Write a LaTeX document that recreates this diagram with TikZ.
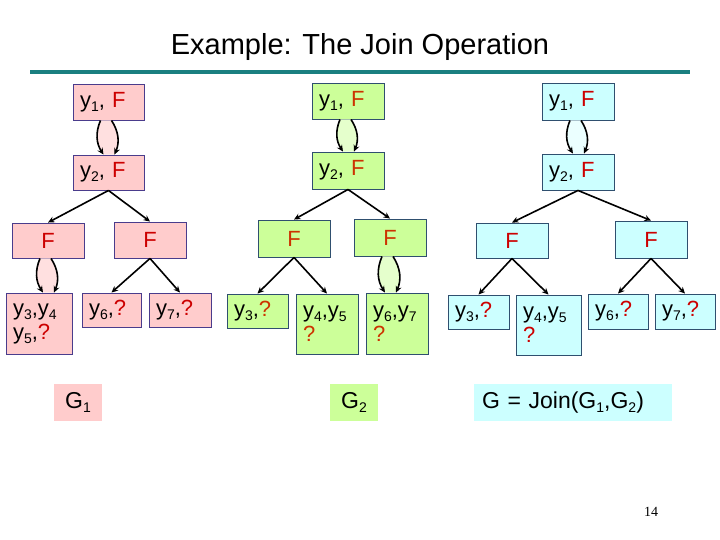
\documentclass[tikz,border=0pt]{standalone}
\usepackage{fontspec}
\setmainfont{Liberation Sans}
\newfontfamily\pgserif{Liberation Serif}
\usetikzlibrary{arrows.meta,calc}
\definecolor{pinkF}{HTML}{FFCCCC}
\definecolor{greenF}{HTML}{CCFF99}
\definecolor{blueF}{HTML}{CCFFFF}
\definecolor{bordP}{HTML}{4A3C8C}
\definecolor{bordG}{HTML}{2F4F6F}
\definecolor{redP}{HTML}{CC0000}
\definecolor{redG}{HTML}{CC3300}
\definecolor{rulecol}{HTML}{1A7F80}
\newcommand\sbs[1]{\raisebox{-0.35ex}{\fontsize{14}{14}\selectfont #1}}
\newcommand\qP[1]{\textcolor{redP}{#1}}
\newcommand\qG[1]{\textcolor{redG}{#1}}
\newcommand\dbledge[3]{%
  \fill[#3] ($(#1.south)+(-8,0)$) to[bend right=28] ($(#2.north -| #1.south)+(-5,0)$)
     -- ($(#2.north -| #1.south)+(6,0)$) to[bend right=28] ($(#1.south)+(3,0)$) -- cycle;
  \draw[arr] ($(#1.south)+(-8,0)$) to[bend right=28] ($(#2.north -| #1.south)+(-5,0)$);
  \draw[arr] ($(#1.south)+(3,0)$) to[bend left=28] ($(#2.north -| #1.south)+(6,0)$);
}
\begin{document}
\begin{tikzpicture}[x=1pt,y=-1pt,
  nbox/.style={draw, line width=0.9pt, inner xsep=7pt, inner ysep=0pt,
    font=\fontsize{22}{24}\selectfont, align=left},
  pbox/.style={nbox, fill=pinkF, draw=bordP},
  gbox/.style={nbox, fill=greenF, draw=bordG},
  bbox/.style={nbox, fill=blueF, draw=bordG},
  fbox/.style={align=center},
  lbl/.style={inner sep=0pt, font=\fontsize{23}{25}\selectfont},
  arr/.style={line width=1.6pt, -{Stealth[length=6.5pt,width=6pt]}}]
\useasboundingbox (0,0) rectangle (720,540);

% title
\node[font=\fontsize{29}{31}\selectfont] (T) at (360,47) {Example: The Join Operation};
\draw[rulecol, line width=4.5pt] (30,72) -- (690,72);

% ---- G1 (pink)
\node[pbox, minimum height=36pt, text width=57pt] (P1) at (108.5,102) {y\sbs{1}, \qP{F}};
\node[pbox, minimum height=35pt, text width=57pt] (P2) at (108.5,172.5) {y\sbs{2}, \qP{F}};
\node[pbox, fbox, minimum height=35pt, text width=58pt] (PF1) at (48,240.5) {\qP{F}};
\node[pbox, fbox, minimum height=36pt, text width=58pt] (PF2) at (150,240) {\qP{F}};
\node[pbox, minimum height=61pt, text width=52pt] (P3) at (39,323.5) {y\sbs{3},y\sbs{4}\\y\sbs{5},\qP{?}};
\node[pbox, minimum height=34pt, text width=45pt] (P6) at (111.5,310) {y\sbs{6},\qP{?}};
\node[pbox, minimum height=34pt, text width=48pt] (P7) at (180,310) {y\sbs{7},\qP{?}};
\node[lbl, fill=pinkF, minimum width=48pt, minimum height=37pt] (L1) at (78,402.5) {G\sbs{1}};

\dbledge{P1}{P2}{pinkF!60!white}
\draw[arr] (P2.south) -- (PF1.north);
\draw[arr] (P2.south) -- (PF2.north);
\dbledge{PF1}{P3}{pinkF!60!white}
\draw[arr] (PF2.south) -- (P6.north);
\draw[arr] (PF2.south) -- (P7.north);

% ---- G2 (green)
\node[gbox, minimum height=36pt, text width=58pt] (G1y) at (348,101) {y\sbs{1}, \qG{F}};
\node[gbox, minimum height=37pt, text width=58pt] (G2y) at (348,170.5) {y\sbs{2}, \qG{F}};
\node[gbox, fbox, minimum height=37pt, text width=58pt] (GF1) at (294,238.5) {\qG{F}};
\node[gbox, fbox, minimum height=37pt, text width=58pt] (GF2) at (390,237.5) {\qG{F}};
\node[gbox, minimum height=34pt, text width=47pt] (Gy3) at (257.5,311) {y\sbs{3},\qG{?}};
\node[gbox, minimum height=60pt, text width=48pt] (Gy45) at (327,324) {y\sbs{4},y\sbs{5}\\\qG{?}};
\node[gbox, minimum height=61pt, text width=48pt] (Gy67) at (397,323.5) {y\sbs{6},y\sbs{7}\\\qG{?}};
\node[lbl, fill=greenF, minimum width=48pt, minimum height=37pt] (L2) at (354,402.5) {G\sbs{2}};

\dbledge{G1y}{G2y}{greenF!50!white}
\draw[arr] (G2y.south) -- (GF1.north);
\draw[arr] (G2y.south) -- (GF2.north);
\draw[arr] (GF1.south) -- (Gy3.north);
\draw[arr] (GF1.south) -- (Gy45.north);
\dbledge{GF2}{Gy67}{greenF!50!white}

% ---- G (blue)
\node[bbox, minimum height=37pt, text width=58pt] (B1) at (578,101.5) {y\sbs{1}, \qP{F}};
\node[bbox, minimum height=36pt, text width=58pt] (B2) at (578,172) {y\sbs{2}, \qP{F}};
\node[bbox, fbox, minimum height=35pt, text width=58pt] (BF1) at (512,240.5) {\qP{F}};
\node[bbox, fbox, minimum height=37pt, text width=58pt] (BF2) at (651,239.5) {\qP{F}};
\node[bbox, minimum height=34pt, text width=47pt] (By3) at (478.5,312) {y\sbs{3},\qP{?}};
\node[bbox, minimum height=60pt, text width=51pt] (By45) at (548.5,325) {y\sbs{4},y\sbs{5}\\\qP{?}};
\node[bbox, minimum height=35pt, text width=46pt] (By6) at (618,311.5) {y\sbs{6},\qP{?}};
\node[bbox, minimum height=35pt, text width=46pt] (By7) at (685,311.5) {y\sbs{7},\qP{?}};
\node[lbl, fill=blueF, minimum width=198pt, minimum height=37pt, text width=182pt, inner xsep=8pt, align=left] (L3) at (573,402.5) {G = Join(G\sbs{1},G\sbs{2})};

\dbledge{B1}{B2}{blueF!40!white}
\draw[arr] (B2.south) -- (BF1.north);
\draw[arr] (B2.south) -- (BF2.north);
\draw[arr] (BF1.south) -- (By3.north);
\draw[arr] (BF1.south) -- (By45.north);
\draw[arr] (BF2.south) -- (By6.north);
\draw[arr] (BF2.south) -- (By7.north);

% page number
\node[font=\pgserif\fontsize{14}{14}\selectfont] (pg) at (651,512) {14};
\end{tikzpicture}
\end{document}
